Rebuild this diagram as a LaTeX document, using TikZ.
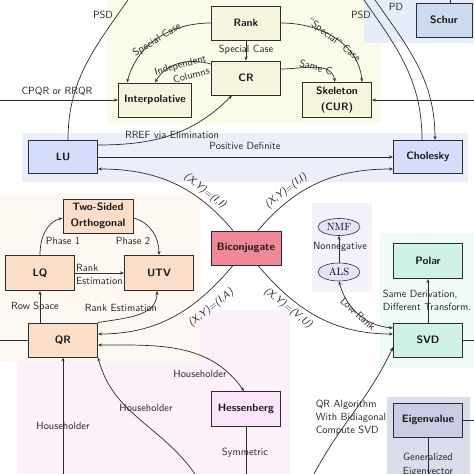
\documentclass[tikz,border=0pt]{standalone}
\usetikzlibrary{arrows.meta,shapes.geometric}
\definecolor{yellowbg}{RGB}{251,251,234}
\definecolor{yellowbox}{RGB}{245,245,222}
\definecolor{bluebg}{RGB}{234,239,250}
\definecolor{bluebox}{RGB}{214,221,250}
\definecolor{schurbg}{RGB}{229,237,249}
\definecolor{schurbox}{RGB}{204,219,240}
\definecolor{orangebg}{RGB}{253,248,242}
\definecolor{orangebox}{RGB}{251,222,200}
\definecolor{pinkbg}{RGB}{252,241,250}
\definecolor{hessbox}{RGB}{250,230,250}
\definecolor{purplebg}{RGB}{245,241,251}
\definecolor{ellbox}{RGB}{232,226,246}
\definecolor{greenbg}{RGB}{240,250,247}
\definecolor{greenbox}{RGB}{208,242,228}
\definecolor{eigbg}{RGB}{218,221,236}
\definecolor{eigbox}{RGB}{200,205,228}
\definecolor{biconbox}{RGB}{240,136,152}
\definecolor{ink}{RGB}{45,45,45}
\begin{document}
\begin{tikzpicture}[x=1pt,y=1pt,
  box/.style={draw=ink, line width=0.9pt, minimum width=69pt, minimum height=34pt,
    font=\sffamily\bfseries\fontsize{10.7}{15.5}\selectfont, align=center, inner sep=1pt, text=black!90},
  ell/.style={draw=ink, line width=0.6pt, ellipse, fill=ellbox, minimum width=42pt, minimum height=17pt,
    inner sep=0pt, font=\rmfamily\fontsize{10.5}{12}\selectfont},
  lbl/.style={font=\sffamily\fontsize{10.4}{13}\selectfont, inner sep=1pt, text=black!85},
  xy/.style={lbl, font=\sffamily\slshape\fontsize{10.4}{13}\selectfont},
  arr/.style={-{Stealth[length=4pt,width=3pt]}, line width=0.7pt, draw=ink},
  dbl/.style={{Stealth[length=4pt,width=3pt]}-{Stealth[length=4pt,width=3pt]}, line width=0.7pt, draw=ink},
  ln/.style={line width=0.7pt, draw=ink}]
\useasboundingbox (0,0) rectangle (474,474);
\clip (0,0) rectangle (474,474);
% backgrounds
\fill[pinkbg] (17,0) rectangle (290,164);
\fill[yellowbg] (107,351) rectangle (381,474);
\fill[schurbg] (364,431) rectangle (474,474);
\fill[bluebg] (22,292) rectangle (468,341);
\fill[orangebg] (0,112) rectangle (200,281);
\fill[purplebg] (312,182) rectangle (372,271);
\fill[greenbg] (380,106) rectangle (474,241);
\fill[eigbg] (387,0) rectangle (470,77);
% nodes
\node[box, fill=yellowbox] (rank) at (246,451) {Rank};
\node[box, fill=yellowbox] (cr) at (246,396) {CR};
\node[box, fill=yellowbox, minimum width=73pt] (interp) at (155,374) {Interpolative};
\node[box, fill=yellowbox, minimum height=35pt] (skel) at (337,374) {Skeleton\\(CUR)};
\node[box, fill=schurbox, minimum width=56pt] (schur) at (444,454) {Schur};
\node[box, fill=bluebox, minimum height=33pt] (lu) at (63,317) {LU};
\node[box, fill=bluebox, minimum height=33pt] (chol) at (428,317) {Cholesky};
\node[box, fill=orangebox, minimum width=70pt] (ts) at (98,258) {Two-Sided\\Orthogonal};
\node[box, fill=orangebox, minimum height=35pt] (lq) at (40,201) {LQ};
\node[box, fill=orangebox, minimum height=35pt] (utv) at (159,201) {UTV};
\node[box, fill=orangebox] (qr) at (63,134) {QR};
\node[box, fill=biconbox, minimum width=70pt] (bicon) at (246,226) {Biconjugate};
\node[ell] (nmf) at (339,247) {NMF};
\node[ell, minimum height=18pt] (als) at (339,202) {ALS};
\node[box, fill=greenbox, minimum height=35pt] (polar) at (428,213) {Polar};
\node[box, fill=greenbox] (svd) at (428,134) {SVD};
\node[box, fill=hessbox, minimum height=35pt] (hess) at (246,65) {Hessenberg};
\node[box, fill=eigbox] (eig) at (428,54) {Eigenvalue};
% free ends
\coordinate (cpqrin) at (0,374);
\coordinate (skin) at (474,374);
\coordinate (psdl) at (128,474);
\coordinate (psdr) at (364,474);
\coordinate (pdr) at (375,474);
\coordinate (hh1) at (63,0);
\coordinate (hh2) at (195,0);
\coordinate (qrl) at (0,134);
\coordinate (hs) at (246,0);
\coordinate (qra) at (314,0);
\coordinate (eg) at (428,0);
\coordinate (eigr) at (474,54);
\coordinate (svdr) at (474,134);
\coordinate (st) at (450,474);
% top group
\draw[arr] (rank.west) to[out=180,in=75] ([xshift=-28pt]interp.north);
\node[lbl, rotate=32] at (157,434) {Special Case};
\draw[arr] (rank.east) to[out=0,in=95] ([xshift=25pt]skel.north);
\node[lbl, rotate=-38] at (334,434) {``Special'' Case};
\draw[arr] (rank) -- (cr);
\node[lbl] at (246,424) {Special Case};
\draw[arr] ([yshift=14pt]cr.west) to[out=165,in=60] (interp.north);
\node[lbl, rotate=15, align=right] at (182,403) {Independent\\Columns};
\draw[arr] ([yshift=9pt]cr.east) to[out=0,in=100] ([xshift=-2pt]skel.north);
\node[lbl, rotate=-15] at (316,407) {Same C};
\draw[arr] (cpqrin) -- (interp.west);
\node[lbl] at (57,383) {CPQR or RRQR};
\draw[arr] (skin) -- (skel.east);
% big arcs
\draw[ln] (psdl) to[out=-125,in=90] ([xshift=5pt]lu.north);
\node[lbl] at (103,459) {PSD};
\draw[ln] (psdr) to[out=-55,in=90] ([xshift=-6pt]chol.north);
\draw[arr] (pdr) to[out=-55,in=90] ([xshift=7pt]chol.north);
\node[lbl] at (361,459) {PSD};
\node[lbl] at (396,467) {PD};
\draw[ln] ([xshift=6pt]schur.north) -- (st);
% LU / Cholesky
\draw[arr] ([yshift=12pt]lu.east) to[out=0,in=225] ([xshift=-14pt]cr.south);
\node[lbl] at (172,339) {RREF via Elimination};
\draw[arr] (lu.east) -- (chol.west);
\node[lbl] at (245,328) {Positive Definite};
% biconjugate
\draw[arr] ([xshift=-13pt]bicon.north) to[out=130,in=0] ([yshift=-12pt]lu.east);
\node[xy, rotate=-38] at (205,283) {(X,Y)=(I,I)};
\draw[arr] ([xshift=12pt]bicon.north) to[out=50,in=180] ([yshift=-12pt]chol.west);
\node[xy, rotate=38] at (286,283) {(X,Y)=(I,I)};
\draw[arr] ([xshift=-13pt]bicon.south) to[out=230,in=0] ([yshift=6pt]qr.east);
\node[xy, rotate=38] at (211,166) {(X,Y)=(I,A)};
\draw[arr] ([xshift=12pt]bicon.south) to[out=-50,in=180] ([yshift=6pt]svd.west);
\node[xy, rotate=-38] at (288,166) {(X,Y)=(V,U)};
% NMF / SVD
\draw[dbl] (als.south) to[out=-75,in=175] ([yshift=12pt]svd.west);
\node[lbl, rotate=-42] at (358,160) {Low-Rank};
\draw[arr] (als) -- (nmf);
\node[lbl] at (340,227) {Nonnegative};
\draw[arr] (svd) -- (polar);
\node[lbl, align=left] at (427,174) {Same Derivation,\\Different Transform.};
% orange group
\draw[arr] ([xshift=-23pt]qr.north) -- (lq.south);
\node[lbl] at (35,167) {Row Space};
\draw[arr] (lq) -- (utv);
\node[lbl, align=left] at (99.5,199.5) {Rank\\Estimation};
\draw[arr] (lq.north) to[out=90,in=195] ([yshift=-2pt]ts.west);
\node[lbl] at (63,233) {Phase 1};
\draw[arr] ([yshift=-2pt]ts.east) to[out=-15,in=90] (utv.north);
\node[lbl] at (133,233) {Phase 2};
\draw[arr] (qr.north east) to[out=10,in=-90] ([xshift=-2pt]utv.south);
\node[lbl] at (121,166) {Rank Estimation};
% bottom
\draw[ln] (qrl) -- (qr.west);
\draw[dbl] ([yshift=-5pt]qr.east) to[out=0,in=125] ([xshift=-2pt]hess.north);
\node[lbl] at (200,100) {Householder};
\draw[arr] (hh2) to[out=125,in=-75] (qr.south east);
\node[lbl] at (146,66) {Householder};
\draw[arr] (hh1) -- (qr.south);
\node[lbl] at (63,48) {Householder};
\draw[ln] (hess.south) -- (hs);
\node[lbl] at (245,21) {Symmetric};
\draw[arr] (qra) to[out=62,in=245] ([yshift=-7pt]svd.west);
\node[lbl, align=left] at (351,56) {QR Algorithm\\With Bidiagonal\\Compute SVD};
\draw[ln] (eig.south) -- (eg);
\node[lbl, align=center, font=\sffamily\fontsize{10.4}{14}\selectfont] at (428,9) {Generalized\\Eigenvector};
\draw[ln] (eig.east) -- (eigr);
\draw[ln] (svd.east) -- (svdr);
\end{tikzpicture}
\end{document}
